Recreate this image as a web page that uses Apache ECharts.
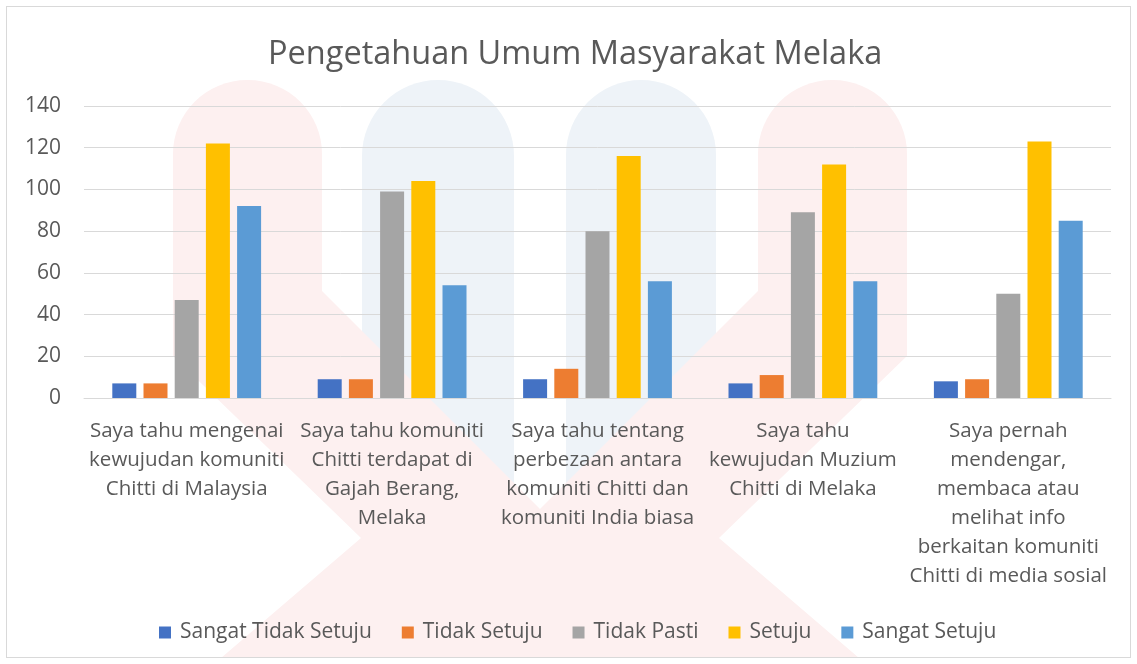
<!DOCTYPE html>
<html>
<head>
<meta charset="utf-8">
<script src="https://cdn.jsdelivr.net/npm/echarts@6/dist/echarts.min.js"></script>
<style>
    html, body { margin: 0; padding: 0; background: #fff; }
    #chart1 { position: absolute; left: 6px; top: 6px; width: 1125px; height: 652px; border: 1px solid #d9d9d9; box-sizing: border-box; }
</style>
</head>
<body>
<div id="chart1"></div>
<script>
    // kategori soalan
    var categories = [
        'Saya tahu mengenai\nkewujudan komuniti\nChitti di Malaysia',
        'Saya tahu komuniti\nChitti terdapat di\nGajah Berang,\nMelaka',
        'Saya tahu tentang\nperbezaan antara\nkomuniti Chitti dan\nkomuniti India biasa',
        'Saya tahu\nkewujudan Muzium\nChitti di Melaka',
        'Saya pernah\nmendengar,\nmembaca atau\nmelihat info\nberkaitan komuniti\nChitti di media sosial'
    ];
    var seriesNames = ['Sangat Tidak Setuju', 'Tidak Setuju', 'Tidak Pasti', 'Setuju', 'Sangat Setuju'];
    var sangatTidakSetuju = [7, 9, 9, 7, 8];
    var tidakSetuju = [7, 9, 14, 11, 9];
    var tidakPasti = [47, 99, 80, 89, 50];
    var setuju = [122, 104, 116, 112, 123];
    var sangatSetuju = [92, 54, 56, 56, 85];
    var yTicks = [0, 20, 40, 60, 80, 100, 120, 140];

    var colors = ['#4472C4', '#ED7D31', '#A5A5A5', '#FFC000', '#5B9BD5'];
    var values = [sangatTidakSetuju, tidakSetuju, tidakPasti, setuju, sangatSetuju];
    var textColor = '#595959';
    var font = '"Open Sans", sans-serif';

    var series = [];
    for (var i = 0; i < seriesNames.length; i++) {
        series.push({
            name: seriesNames[i],
            type: 'bar',
            data: values[i],
            barWidth: 24,
            barGap: '30%',
            z: 3,
            itemStyle: { color: colors[i] }
        });
    }

    // tera air samar di belakang carta (koordinat dalam div, bukan data)
    var wmRed = '#fdf0f0';
    var wmBlue = '#eef3f8';
    var watermark = [
        { type: 'rect', z: -10, shape: { x: 355, y: 73, width: 152, height: 580, r: [76, 76, 0, 0] }, style: { fill: wmBlue } },
        { type: 'rect', z: -10, shape: { x: 559, y: 73, width: 150, height: 580, r: [75, 75, 0, 0] }, style: { fill: wmBlue } },
        { type: 'rect', z: -9, shape: { x: 166, y: 73, width: 149, height: 160, r: [74, 74, 0, 0] }, style: { fill: wmRed } },
        { type: 'rect', z: -9, shape: { x: 751, y: 73, width: 149, height: 160, r: [74, 74, 0, 0] }, style: { fill: wmRed } },
        {
            type: 'polygon', z: -9,
            shape: { points: [[166, 150], [166, 349], [354, 531], [214, 651], [852, 651], [712, 531], [900, 349], [900, 150], [751, 150], [751, 284], [533, 502], [315, 284], [315, 150]] },
            style: { fill: wmRed }
        }
    ];

    var myChart = echarts.init(document.getElementById('chart1'));
    var option = {
        animation: false,
        color: colors,
        graphic: { elements: watermark },
        title: {
            text: 'Pengetahuan Umum Masyarakat Melaka',
            left: 256,
            top: 26,
            textStyle: { color: textColor, fontSize: 32.5, fontWeight: 'normal', fontFamily: font }
        },
        legend: {
            data: seriesNames,
            bottom: 9,
            left: 147,
            itemWidth: 12,
            itemHeight: 12,
            itemGap: 30,
            icon: 'rect',
            textStyle: { color: textColor, fontSize: 21, fontFamily: font, padding: [0, 0, 0, 4] }
        },
        grid: {
            left: 77,
            right: 19,
            top: 99,
            bottom: 259
        },
        xAxis: {
            type: 'category',
            data: categories,
            axisTick: { show: false },
            axisLine: { lineStyle: { color: '#d9d9d9', width: 1 } },
            axisLabel: {
                interval: 0,
                margin: 19,
                color: textColor,
                fontSize: 20.5,
                lineHeight: 29,
                fontFamily: font
            }
        },
        yAxis: {
            type: 'value',
            min: yTicks[0],
            max: yTicks[yTicks.length - 1],
            interval: 20,
            axisLine: { show: false },
            axisTick: { show: false },
            splitLine: { lineStyle: { color: '#d9d9d9', width: 1 } },
            axisLabel: { color: textColor, fontSize: 21, margin: 23, fontFamily: font }
        },
        series: series
    };
    myChart.setOption(option);
    window.addEventListener('resize', function () {
        myChart.resize();
    });
</script>
</body>
</html>
